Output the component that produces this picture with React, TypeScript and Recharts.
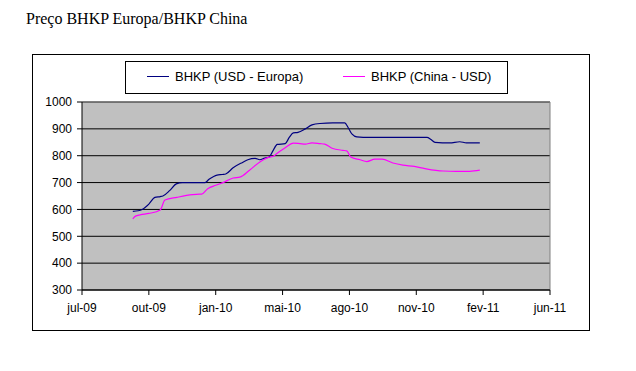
import React from 'react';
import { LineChart, Line, XAxis, YAxis, CartesianGrid, ReferenceLine } from 'recharts';

// x = days since the first axis tick (jul-09), ticks every 100 days
const tickDays = [0, 100, 200, 300, 400, 500, 600, 700];
const tickLabels = ['jul-09', 'out-09', 'jan-10', 'mai-10', 'ago-10', 'nov-10', 'fev-11', 'jun-11'];
const yTicks = [300, 400, 500, 600, 700, 800, 900, 1000];

const seriesNames = ['BHKP (USD - Europa)', 'BHKP (China - USD)'];
const seriesColors = ['#000080', '#FF00FF'];

const europaDays = [76, 84, 90, 100, 109, 117, 121, 131, 141, 150, 184, 190, 202, 210, 215, 226, 240, 248, 259, 266, 272, 280, 286, 292, 304, 310, 316, 323, 334, 344, 356, 375, 393, 398, 404, 411, 430, 516, 522, 528, 550, 565, 575, 595];
const europaValues = [593, 595, 600, 620, 645, 648, 650, 670, 695, 700, 700, 712, 728, 730, 732, 755, 775, 785, 790, 785, 790, 795, 820, 842, 845, 868, 885, 887, 900, 915, 920, 922, 922, 905, 880, 870, 868, 868, 860, 850, 848, 852, 848, 848];

const chinaDays = [76, 80, 87, 100, 117, 124, 142, 165, 176, 179, 188, 200, 211, 226, 236, 251, 266, 277, 286, 295, 304, 316, 326, 334, 344, 356, 363, 374, 390, 396, 402, 416, 426, 438, 449, 465, 480, 497, 513, 540, 560, 580, 595];
const chinaValues = [565, 575, 580, 585, 598, 635, 645, 655, 657, 657, 677, 690, 700, 717, 720, 747, 777, 792, 798, 815, 830, 847, 845, 843, 848, 845, 843, 828, 820, 818, 795, 785, 778, 787, 787, 773, 765, 760, 752, 743, 742, 742, 746];

const europaData = europaDays.map((d, i) => ({ day: d, value: europaValues[i] }));
const chinaData = chinaDays.map((d, i) => ({ day: d, value: chinaValues[i] }));

const sans = '"Liberation Sans", Arial, sans-serif';

export default function App() {
  return (
    <div style={{ position: 'absolute', left: 0, top: 0, width: 636, height: 371, background: '#fff' }}>
      <div
        style={{
          position: 'absolute',
          left: 26,
          top: 10,
          fontFamily: '"Liberation Serif", "Times New Roman", serif',
          fontSize: 16,
          whiteSpace: 'nowrap',
          color: '#000',
        }}
      >
        Preço BHKP Europa/BHKP China
      </div>
      <div
        style={{
          position: 'absolute',
          left: 32,
          top: 54,
          width: 558,
          height: 277,
          boxSizing: 'border-box',
          border: '1px solid #000',
        }}
      />
      <div
        style={{
          position: 'absolute',
          left: 125,
          top: 61,
          width: 383,
          height: 33,
          boxSizing: 'border-box',
          border: '1px solid #000',
          fontFamily: sans,
          fontSize: 13,
          color: '#000',
        }}
      >
        {seriesNames.map((name, i) => (
          <div
            key={name}
            style={{
              position: 'absolute',
              left: i === 0 ? 21 : 217,
              top: 7,
              display: 'flex',
              alignItems: 'center',
              whiteSpace: 'nowrap',
            }}
          >
            <span style={{ display: 'inline-block', width: 22, height: 1, background: seriesColors[i], marginRight: 6 }} />
            <span>{name}</span>
          </div>
        ))}
      </div>
      <div style={{ position: 'absolute', left: 0, top: 0 }}>
        <LineChart width={636} height={371} margin={{ top: 102, right: 86, bottom: 51, left: 0 }}>
          <CartesianGrid vertical={false} stroke="#000" fill="#C0C0C0" strokeWidth={1} />
          <ReferenceLine y={1000} stroke="#808080" />
          <ReferenceLine x={700} stroke="#808080" />
          <XAxis
            dataKey="day"
            type="number"
            domain={[0, 700]}
            ticks={tickDays}
            allowDataOverflow
            tickFormatter={(v: number) => tickLabels[tickDays.indexOf(v)] ?? ''}
            axisLine={{ stroke: '#000' }}
            tickLine={{ stroke: '#000' }}
            tickSize={5}
            tickMargin={8}
            height={30}
            tick={{ fill: '#000', fontSize: 12, fontFamily: sans }}
          />
          <YAxis
            type="number"
            domain={[300, 1000]}
            ticks={yTicks}
            allowDataOverflow
            width={82}
            axisLine={{ stroke: '#000' }}
            tickLine={{ stroke: '#000' }}
            tickSize={5}
            tickMargin={5}
            tick={{ fill: '#000', fontSize: 12, fontFamily: sans }}
          />
          <Line
            data={europaData}
            dataKey="value"
            name={seriesNames[0]}
            type="monotone"
            stroke={seriesColors[0]}
            strokeWidth={1.2}
            dot={false}
            isAnimationActive={false}
          />
          <Line
            data={chinaData}
            dataKey="value"
            name={seriesNames[1]}
            type="monotone"
            stroke={seriesColors[1]}
            strokeWidth={1.2}
            dot={false}
            isAnimationActive={false}
          />
        </LineChart>
      </div>
    </div>
  );
}
